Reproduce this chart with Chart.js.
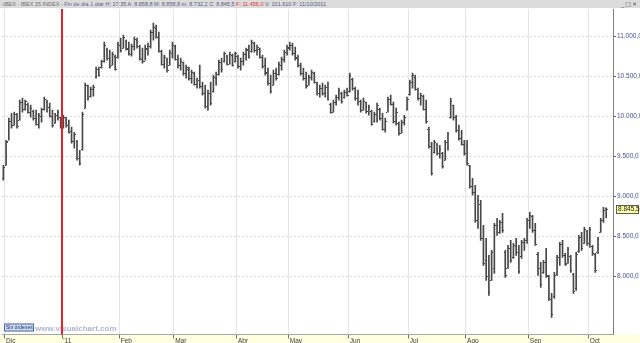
<!DOCTYPE html>
<html><head><meta charset="utf-8">
<script src="https://cdn.jsdelivr.net/npm/chart.js@4.4.1/dist/chart.umd.min.js"></script>
<style>
html,body{margin:0;padding:0;background:#fff;}
#wrap{position:relative;width:640px;height:343px;overflow:hidden;background:#fff;}
#title{position:absolute;left:0;top:0;width:640px;height:8px;background:#dcdcdc;font:5.5px "Liberation Sans",Arial,sans-serif;line-height:8px;color:#5a5a8a;white-space:nowrap;overflow:hidden;}
#title .g{color:#707070;}
#title .r{color:#e03030;}
#btns{position:absolute;right:2px;top:0;font:6px "DejaVu Sans",sans-serif;line-height:8px;color:#404040;letter-spacing:1px;}
#cv{position:absolute;left:0;top:8px;display:block;}
</style></head>
<body><div id="wrap">
<div id="title">&nbsp;<span class="g">-IBEX - IBEX 35 INDEX -</span> Fin de día 1 diar H: 17:35 A: 8.858,8 M: 8.858,8 m: 8.732,2 C: 8.845,5 <span class="r">F: 11.456,0</span> V: 101.610 F: 11/10/2011</div>
<div id="btns">_□×</div>
<canvas id="cv" width="640" height="335"></canvas>
</div>
<script>
// ---- calendar (trading days) ----
const START = '2010-11-30';
const END = '2011-10-11';
const HOLIDAYS = ['2010-12-24','2010-12-31','2011-04-22','2011-04-25'];
const MONTH_NAMES = ['Ene','Feb','Mar','Abr','May','Jun','Jul','Ago','Sep','Oct','Nov','Dic'];
const TRAILING_EMPTY = 2;

// ---- price-axis tick values ----
const Y_TICKS = [8000, 8500, 9000, 9500, 10000, 10500, 11000];

// ---- OHLC values (IBEX 35, daily) ----
const highs = [
 9391, 9704, 9980,10042,10055,10042,10205,10230,10205,10168,
10143,10080,10080,10042,10105,10243,10205,10168,10080,10042,
10080, 9992,10017, 9992, 9955, 9867, 9804, 9704, 9579,10055,
10418,10393,10368,10393,10619,10619,10706,10932,10857,10832,
10807,10769,10932,10982,11020,10957,10932,10907,10995,10982,
10894,10857,10894,10919,11082,11170,11145,11057,10832,10769,
10732,10832,10932,10894,10769,10732,10681,10644,10619,10581,
10556,10481,10644,10431,10393,10331,10431,10519,10556,10706,
10732,10807,10769,10807,10782,10807,10769,10732,10807,10857,
10894,10957,10932,10894,10857,10769,10732,10606,10519,10581,
10606,10681,10744,10832,10894,10932,10919,10869,10769,10669,
10606,10556,10519,10581,10556,10431,10393,10418,10393,10431,
10168,10205,10268,10356,10306,10331,10356,10544,10481,10368,
10331,10205,10230,10180,10143,10080,10055,10168,10105,10042,
 9980,10243,10268,10180,10105, 9930, 9955,10017,10243,10456,
10544,10519,10356,10293,10268,10205, 9867, 9679, 9704, 9666,
 9641, 9554, 9704, 9804,10230,10143,10017, 9892, 9829, 9704,
 9704, 9391, 9228, 9140, 9015, 8952, 8639, 8476, 8263, 8326,
 8664, 8727, 8702, 8789, 8326, 8388, 8451, 8413, 8476, 8388,
 8451, 8476, 8727, 8802, 8764, 8664, 8301, 8175, 8200, 8351,
 8013, 7787, 8050, 8263, 8426, 8451, 8288, 8363, 8263, 8038,
 8301, 8514, 8551, 8614, 8576, 8614, 8388, 8288, 8489, 8727,
 8865, 8858.8];
const lows = [
 9203, 9391, 9704, 9854, 9892, 9854, 9955,10055,10080,10042,
 9992, 9955, 9892, 9854, 9930,10080,10055, 9992, 9867, 9917,
 9955, 9854, 9854, 9867, 9792, 9666, 9604, 9453, 9391, 9579,
10105,10205,10243,10255,10481,10506,10606,10681,10706,10606,
10644,10581,10732,10807,10857,10832,10769,10757,10832,10857,
10706,10669,10706,10769,10857,10957,10982,10807,10644,10606,
10556,10644,10732,10706,10606,10581,10519,10481,10456,10418,
10393,10356,10356,10268,10105,10080,10143,10306,10393,10519,
10556,10681,10644,10656,10631,10681,10606,10581,10644,10706,
10732,10807,10807,10769,10732,10606,10519,10393,10293,10393,
10456,10519,10581,10681,10769,10832,10769,10706,10619,10519,
10456,10356,10393,10456,10418,10268,10243,10268,10243,10205,
10042,10055,10143,10205,10168,10230,10255,10306,10331,10205,
10143,10055,10080,10042,10017, 9892, 9930, 9930, 9955, 9829,
 9804,10055,10143, 9917, 9892, 9767, 9792, 9892,10080,10268,
10356,10331,10205,10143,10080, 9917, 9604, 9266, 9541, 9516,
 9479, 9353, 9453, 9579, 9980, 9955, 9804, 9704, 9641, 9516,
 9391, 9103, 9015, 8677, 8601, 8451, 8138, 7950, 7762, 7950,
 8038, 8514, 8539, 8551, 7987, 8100, 8175, 8226, 8263, 8038,
 8226, 8326, 8413, 8601, 8551, 8388, 8013, 7862, 8038, 7987,
 7699, 7486, 7724, 8013, 8138, 8238, 8138, 8163, 8050, 7787,
 7825, 8301, 8326, 8413, 8388, 8363, 8263, 8050, 8288, 8551,
 8677, 8732.2];
const opens = [
 9230, 9400, 9700, 9950, 9900,10030, 9960,10180,10100,10160,
10060,10070, 9980, 9910,10010,10090,10200,10120,10010, 9920,
10020, 9990, 9900, 9980, 9900, 9820, 9700, 9700, 9480, 9600,
10110,10390,10260,10340,10500,10600,10620,10690,10840,10730,
10650,10760,10740,10900,10860,10950,10860,10780,10880,10960,
10880,10720,10700,10850,10880,11060,11110,10990,10820,10660,
10720,10650,10800,10880,10720,10640,10680,10540,10600,10480,
10540,10410,10460,10380,10290,10130,10300,10320,10480,10530,
10680,10700,10760,10660,10770,10690,10760,10630,10700,10780,
10830,10820,10920,10830,10850,10750,10640,10560,10420,10400,
10550,10530,10650,10720,10800,10860,10900,10800,10740,10640,
10550,10480,10400,10490,10550,10420,10290,10360,10290,10370,
10160,10060,10180,10250,10300,10240,10310,10320,10470,10360,
10230,10190,10080,10180,10070,10070, 9940,10030,10100, 9980,
 9850,10060,10220,10160, 9940, 9920, 9800, 9930,10090,10280,
10430,10500,10350,10230,10260,10100, 9850, 9630, 9560, 9660,
 9540, 9540, 9460, 9680, 9990,10140, 9990, 9830, 9730, 9660,
 9650, 9390, 9130, 9050, 8700, 8900, 8480, 8200, 8000, 7950,
 8100, 8640, 8550, 8680, 8300, 8110, 8360, 8240, 8380, 8300,
 8250, 8430, 8450, 8700, 8760, 8580, 8280, 8100, 8050, 8180,
 8000, 7720, 7750, 8030, 8240, 8400, 8270, 8170, 8250, 8030,
 7850, 8320, 8490, 8420, 8570, 8420, 8380, 8280, 8300, 8560,
 8700, 8858.8];
const closes = [
 9370, 9680, 9950, 9900,10030, 9880,10180,10100,10190,10060,
10110, 9980, 9910,10020,10090,10220,10120,10010, 9900,10020,
10060, 9880, 9990, 9890, 9810, 9690, 9780, 9480, 9420,10030,
10390,10230,10340,10370,10600,10520,10690,10900,10730,10630,
10780,10600,10910,10830,10990,10850,10790,10880,10970,10880,
10730,10690,10860,10890,11060,11120,11000,10820,10660,10740,
10580,10810,10900,10720,10640,10700,10540,10620,10480,10560,
10410,10460,10380,10290,10130,10300,10170,10500,10530,10680,
10600,10790,10660,10780,10650,10790,10630,10700,10780,10840,
10750,10930,10830,10870,10750,10630,10550,10420,10320,10550,
10480,10660,10720,10810,10870,10900,10790,10730,10640,10540,
10480,10380,10500,10560,10430,10290,10360,10290,10370,10220,
10060,10180,10250,10330,10190,10310,10270,10520,10360,10230,
10290,10080,10200,10070,10120, 9910,10030,10140, 9980, 9850,
 9950,10220,10160, 9940,10060, 9790, 9930, 9990,10220,10430,
10520,10350,10230,10270,10100, 9940, 9630, 9300, 9680, 9540,
 9600, 9380, 9680, 9780,10200, 9990, 9830, 9730, 9660, 9540,
 9420, 9130, 9050, 8700, 8950, 8480, 8170, 8000, 7800, 8300,
 8640, 8550, 8680, 8580, 8020, 8360, 8200, 8390, 8300, 8070,
 8430, 8460, 8700, 8770, 8580, 8410, 8040, 7900, 8180, 8020,
 7730, 7530, 8020, 8240, 8400, 8270, 8160, 8340, 8080, 7820,
 8280, 8490, 8360, 8590, 8420, 8590, 8290, 8080, 8470, 8700,
 8830, 8845.5];

// axis settings
const Y_MIN = 7273, Y_MAX = 11346;
const YEAR_BREAK = '2011-01-03';

// ---- build dates ----
const DATES = [];
(function(){
  const d = new Date(START + 'T00:00:00Z'), e = new Date(END + 'T00:00:00Z');
  while (d <= e) {
    const wd = d.getUTCDay(), s = d.toISOString().slice(0,10);
    if (wd !== 0 && wd !== 6 && HOLIDAYS.indexOf(s) < 0) DATES.push(s);
    d.setUTCDate(d.getUTCDate() + 1);
  }
})();
const LABELS = DATES.concat(Array(TRAILING_EMPTY).fill(''));
const isMonthStart = i => i >= 1 && i < DATES.length && DATES[i].slice(5,7) !== DATES[i-1].slice(5,7);

function fmt(v, dec){
  const s = v.toFixed(dec), parts = s.split('.');
  return parts[0].replace(/\B(?=(\d{3})+(?!\d))/g, '.') + (parts[1] !== undefined ? ',' + parts[1] : '');
}

const FONT = '"Liberation Sans", Arial, sans-serif';
const BAR_COLOR = '#474747';

const deco = {
  id: 'deco',
  beforeDraw(chart){
    const {ctx, chartArea: a} = chart;
    ctx.save();
    ctx.fillStyle = '#ffffff'; ctx.fillRect(0, 0, chart.width, chart.height);
    ctx.fillStyle = '#ffffe2'; ctx.fillRect(0, a.bottom, chart.width, chart.height - a.bottom);
    ctx.restore();
  },
  beforeDatasetsDraw(chart){
    const {ctx, chartArea: a} = chart;
    ctx.save();
    ctx.fillStyle = '#cfdcf2'; ctx.strokeStyle = '#4a6aa0'; ctx.lineWidth = 1;
    ctx.fillRect(a.left + 2, a.bottom - 11, 30, 8);
    ctx.strokeRect(a.left + 2.5, a.bottom - 10.5, 29, 7);
    ctx.fillStyle = '#20306a'; ctx.font = '5px ' + FONT; ctx.textBaseline = 'middle';
    ctx.fillText('Sin órdenes', a.left + 4, a.bottom - 7);
    ctx.fillStyle = 'rgba(120,132,175,0.6)'; ctx.font = 'bold 8px ' + FONT; ctx.textBaseline = 'alphabetic';
    ctx.fillText('www.visualchart.com', a.left + 33, a.bottom - 4);
    ctx.restore();
  },
  afterDatasetsDraw(chart){
    const {ctx, chartArea: a, scales: {x, y}} = chart;
    const meta = chart.getDatasetMeta(0);
    ctx.save();
    ctx.fillStyle = BAR_COLOR;
    for (let i = 0; i < DATES.length; i++) {
      const el = meta.data[i]; if (!el) continue;
      const xi = Math.floor(el.x);
      ctx.fillRect(xi - 1, Math.round(y.getPixelForValue(opens[i])), 1, 1);
      ctx.fillRect(xi + 1, Math.round(y.getPixelForValue(closes[i])), 1, 1);
    }
    const bi = DATES.indexOf(YEAR_BREAK);
    const xr = Math.round((x.getPixelForValue(bi - 1) + x.getPixelForValue(bi)) / 2);
    ctx.fillStyle = '#e3232c';
    ctx.fillRect(xr - 1, a.top, 2, a.bottom - a.top);
    ctx.restore();
  },
  afterDraw(chart){
    const {ctx, scales: {y}} = chart;
    const last = closes[closes.length - 1];
    const py = Math.round(y.getPixelForValue(last));
    ctx.save();
    ctx.fillStyle = '#ffffa8'; ctx.strokeStyle = '#606040'; ctx.lineWidth = 1;
    ctx.fillRect(y.left + 3, py - 4, 23, 9);
    ctx.strokeRect(y.left + 3.5, py - 3.5, 22, 8);
    ctx.fillStyle = '#202020'; ctx.font = '6.5px ' + FONT; ctx.textBaseline = 'middle';
    ctx.fillText(fmt(last, 1), y.left + 5, py + 0.5);
    ctx.restore();
  }
};

new Chart(document.getElementById('cv'), {
  type: 'bar',
  data: {
    labels: LABELS,
    datasets: [{
      data: DATES.map((d, i) => [lows[i], highs[i]]),
      backgroundColor: BAR_COLOR,
      borderWidth: 0,
      barThickness: 1,
      grouped: false
    }]
  },
  options: {
    responsive: false,
    animation: false,
    events: [],
    layout: { padding: { left: 2, top: 1, right: 0, bottom: 0 } },
    plugins: { legend: { display: false }, tooltip: { enabled: false } },
    scales: {
      x: {
        type: 'category',
        offset: true,
        grid: {
          offset: true,
          color: c => isMonthStart(c.index) ? '#e4e4e4' : 'rgba(0,0,0,0)',
          tickColor: c => isMonthStart(c.index) ? '#707070' : 'rgba(0,0,0,0)',
          tickLength: 4,
          lineWidth: 1
        },
        border: { color: '#a8a8a8' },
        ticks: {
          autoSkip: false, maxRotation: 0, minRotation: 0,
          align: 'start', padding: -1,
          font: { family: FONT, size: 6.5, lineHeight: 1 },
          color: '#404040',
          callback: (v, i) => {
            if (!isMonthStart(i)) return '';
            const m = +DATES[i].slice(5,7);
            return m === 1 ? "'" + DATES[i].slice(2,4) : MONTH_NAMES[m-1];
          }
        }
      },
      y: {
        type: 'linear',
        position: 'right',
        min: Y_MIN, max: Y_MAX,
        grid: { color: '#dcdcdc', tickColor: '#5a5aa0', tickLength: 3, lineWidth: 1 },
        border: { color: '#808080', dash: [2, 2] },
        ticks: {
          padding: 1, autoSkip: false,
          font: { family: FONT, size: 6.5 },
          color: '#4a4a90',
          callback: v => fmt(v, 1)
        },
        afterBuildTicks: s => { s.ticks = Y_TICKS.map(v => ({ value: v })); },
        afterFit: s => { s.width = 27; s.paddingTop = 0; s.paddingBottom = 0; }
      }
    }
  },
  plugins: [deco]
});
</script>
</body></html>
